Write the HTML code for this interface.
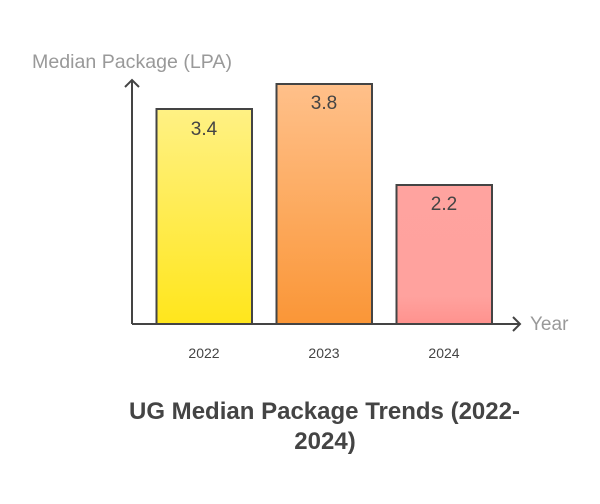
<!DOCTYPE html>
<html><head><style>body{margin:0;background:#fff}svg{display:block}</style></head><body>
<svg width="600" height="504" xmlns="http://www.w3.org/2000/svg" font-family="Liberation Sans, sans-serif">
<defs>
<linearGradient id="g1" x1="0" y1="0" x2="0" y2="1"><stop offset="0" stop-color="#FFF184"/><stop offset="1" stop-color="#FFE61C"/></linearGradient>
<linearGradient id="g2" x1="0" y1="0" x2="0" y2="1"><stop offset="0" stop-color="#FFC08A"/><stop offset="1" stop-color="#FA9637"/></linearGradient>
<linearGradient id="g3" x1="0" y1="0" x2="0" y2="1"><stop offset="0" stop-color="#FFA39F"/><stop offset="0.8" stop-color="#FFA29E"/><stop offset="1" stop-color="#FF928E"/></linearGradient>
</defs>
<text x="32" y="68" font-size="19.5" fill="#999" textLength="200" lengthAdjust="spacingAndGlyphs">Median Package (LPA)</text>
<rect x="156.5" y="109" width="95.5" height="215" fill="url(#g1)" stroke="#444" stroke-width="2"/>
<rect x="276.5" y="84" width="95.5" height="240" fill="url(#g2)" stroke="#444" stroke-width="2"/>
<rect x="396.5" y="185" width="95.5" height="139" fill="url(#g3)" stroke="#444" stroke-width="2"/>
<text x="204" y="135" font-size="19" fill="#444" text-anchor="middle">3.4</text>
<text x="324" y="109" font-size="19" fill="#444" text-anchor="middle">3.8</text>
<text x="444" y="210" font-size="19" fill="#444" text-anchor="middle">2.2</text>
<path d="M132 324V80M125 87L132 80L139 87M132 324H520M513 317L520 324L513 331" stroke="#444" stroke-width="2" fill="none"/>
<text x="530" y="330" font-size="19" fill="#999">Year</text>
<text x="204" y="358" font-size="14" fill="#444" text-anchor="middle">2022</text>
<text x="324" y="358" font-size="14" fill="#444" text-anchor="middle">2023</text>
<text x="444" y="358" font-size="14" fill="#444" text-anchor="middle">2024</text>
<text x="129" y="419" font-size="24" font-weight="bold" fill="#444" textLength="391" lengthAdjust="spacingAndGlyphs">UG Median Package Trends (2022-</text>
<text x="325" y="449" font-size="24" font-weight="bold" fill="#444" text-anchor="middle">2024)</text>
</svg>
</body></html>
